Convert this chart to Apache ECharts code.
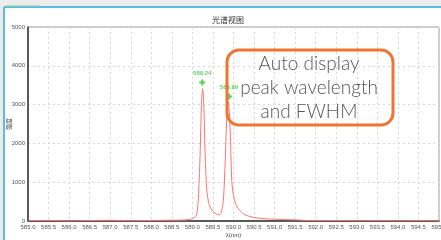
<!DOCTYPE html>
<html>
<head>
<meta charset="utf-8">
<script src="https://cdn.jsdelivr.net/npm/echarts@6/dist/echarts.min.js"></script>
<style>
  html, body { margin: 0; padding: 0; background: #fff; }
  #main { width: 441px; height: 240px; }
</style>
</head>
<body>
<div id="main"></div>
<script>
// 光谱数据 (波长 nm, 强度)
var wavelength = [585.0, 585.5, 586.0, 586.5, 587.0, 587.5, 588.0, 588.5, 588.8, 589.0, 589.1, 589.15, 589.19, 589.22, 589.25,
    589.28, 589.31, 589.35, 589.4, 589.45, 589.5, 589.55, 589.6, 589.65, 589.7, 589.75, 589.79, 589.83, 589.87,
    589.9, 589.93, 589.96, 590.0, 590.05, 590.1, 590.2, 590.3, 590.5, 590.75, 591.0, 591.25, 591.5, 591.75, 592.0,
    592.5, 593.0, 593.5, 594.0, 594.5, 595.0]
var intensity = [10, 15, 5, 12, 18, 8, 14, 20, 25, 60, 150, 700, 1800, 3000, 3410,
    2900, 1700, 800, 450, 320, 250, 200, 170, 150, 220, 500, 1300, 2500, 3080,
    2800, 2000, 1000, 650, 450, 340, 220, 150, 90, 60, 45, 35, 30, 15, 10,
    12, 8, 10, 6, 10, 8]
var peakWl  = [589.24, 589.89]
var peakVal = [3570, 3210]
var xTicks = { min: 585, max: 595, step: 0.5 }
var yTicks = { min: 0, max: 5000, step: 1000 }

var lineData = []
for (let i = 0; i < wavelength.length; i++) lineData.push([wavelength[i], intensity[i]])
var peakData = []
for (let i = 0; i < peakWl.length; i++) peakData.push({ value: [peakWl[i], peakVal[i]], label: { formatter: peakWl[i].toFixed(2) } })

var chart = echarts.init(document.getElementById('main'))
var option = {
    backgroundColor: '#fff',
    animation: false,
    title: {
        text: '光谱视图', left: 223, top: 11, textAlign: 'center',
        textStyle: { fontSize: 8, fontWeight: 'normal', color: '#333', fontFamily: 'Noto Sans CJK SC' }
    },
    grid: { left: 28, right: 2, top: 27, bottom: 19, outerBoundsMode: 'none', containLabel: false,
        show: true, borderColor: '#999', borderWidth: 1 },
    xAxis: {
        type: 'value', min: xTicks.min, max: xTicks.max, interval: xTicks.step,
        name: 'λ(nm)', nameLocation: 'middle', nameGap: 11, nameMoveOverlap: false,
        nameTextStyle: { fontSize: 6, color: '#444' },
        axisLine: { lineStyle: { color: '#333', width: 1.5 } },
        axisTick: { show: false },
        axisLabel: { fontSize: 6, color: '#555', margin: 3, formatter: v => v.toFixed(1) },
        splitLine: { lineStyle: { color: '#d6d6d6', type: [2, 3] } }
    },
    yAxis: {
        type: 'value', min: yTicks.min, max: yTicks.max, interval: yTicks.step,
        name: '强度', nameLocation: 'middle', nameGap: 16, nameRotate: 90, nameMoveOverlap: false,
        nameTextStyle: { fontSize: 6, color: '#444', fontFamily: 'Noto Sans CJK SC' },
        axisLine: { show: true, lineStyle: { color: '#333', width: 1.5 } },
        axisTick: { show: false },
        axisLabel: { fontSize: 6, color: '#555', margin: 3, formatter: v => String(v) },
        splitLine: { lineStyle: { color: '#d6d6d6', type: [2, 3] } }
    },
    series: [
        {
            type: 'line', data: lineData, showSymbol: false, smooth: 0.3,
            lineStyle: { color: '#ff7272', width: 1 }
        },
        {
            type: 'scatter', data: peakData,
            symbol: 'path://M2,0h2v2h2v2h-2v2h-2v-2h-2v-2h2z', symbolSize: 6,
            itemStyle: { color: '#22cc22' },
            label: { show: true, position: 'top', distance: 3, fontSize: 6, fontWeight: 'bold', color: '#33cc33' }
        }
    ],
    graphic: [
        { type: 'rect', shape: { x: 0, y: 0, width: 441, height: 7 }, style: { fill: '#ececec' }, silent: true },
        { type: 'rect', shape: { x: 0, y: 0, width: 3, height: 240 }, style: { fill: '#ececec' }, silent: true },
        { type: 'line', shape: { x1: 4, y1: 7, x2: 441, y2: 7 }, style: { stroke: '#55bde8', lineWidth: 2 }, silent: true },
        { type: 'line', shape: { x1: 5, y1: 6, x2: 40, y2: 6 }, style: { stroke: '#8fcf8f', lineWidth: 1 }, silent: true },
        { type: 'line', shape: { x1: 4, y1: 7, x2: 4, y2: 240 }, style: { stroke: '#55bde8', lineWidth: 2 }, silent: true },
        {
            type: 'rect', z: 100,
            shape: { x: 227, y: 50, width: 166, height: 75, r: 12 },
            style: { fill: 'rgba(255,255,255,0)', stroke: '#f07532', lineWidth: 3 }
        },
        {
            type: 'text', z: 101, x: 309, y: 52,
            style: {
                text: 'Auto display\npeak wavelength\nand FWHM', align: 'center', verticalAlign: 'top',
                fontSize: 19, lineHeight: 24, fill: '#555', fontFamily: 'Lato', fontWeight: 300
            }
        }
    ]
}
chart.setOption(option)
</script>
</body>
</html>
